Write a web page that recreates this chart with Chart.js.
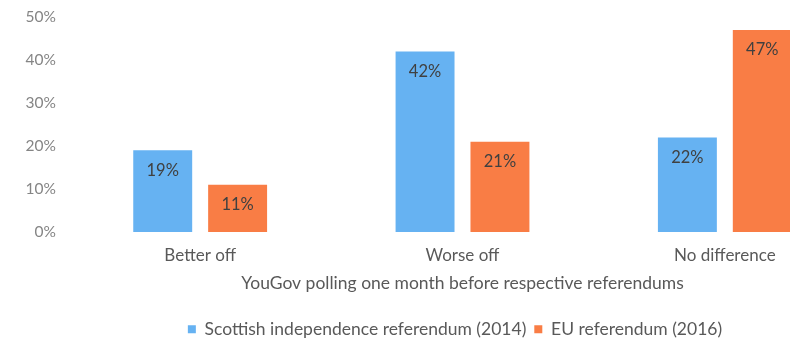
<!DOCTYPE html>
<html>
<head>
<meta charset="utf-8">
<script src="https://cdn.jsdelivr.net/npm/chart.js@4.4.0/dist/chart.umd.min.js"></script>
<style>
  html, body { margin: 0; padding: 0; background: #fff; overflow: hidden; height: 342px; }
  #wrap { width: 910px; height: 355px; margin-top: -7px; }
</style>
</head>
<body>
<div id="wrap"><canvas id="myChart" width="910" height="355"></canvas></div>
<script>
const categorias = ['Better off', 'Worse off', 'No difference'];
const escocia2014 = [19, 42, 22];
const ue2016 = [11, 21, 47];
const serieNomes = ['Scottish independence referendum (2014)', 'EU referendum (2016)'];
const yTicks = [0, 10, 20, 30, 40, 50];

const fonte = 'Lato, "Open Sans", sans-serif';

// escreve o valor dentro de cada barra, perto do topo
const rotulosBarras = {
  id: 'rotulosBarras',
  afterDatasetsDraw(chart) {
    const ctx = chart.ctx;
    ctx.save();
    ctx.font = '16.5px ' + fonte;
    ctx.fillStyle = '#404040';
    ctx.textAlign = 'center';
    ctx.textBaseline = 'middle';
    chart.data.datasets.forEach((ds, i) => {
      chart.getDatasetMeta(i).data.forEach((bar, j) => {
        ctx.fillText(ds.data[j] + '%', bar.x, bar.y + 20);
      });
    });
    ctx.restore();
  }
};

const ctx = document.getElementById('myChart').getContext('2d');
const myChart = new Chart(ctx, {
  type: 'bar',
  data: {
    labels: categorias,
    datasets: [{
      label: serieNomes[0],
      data: escocia2014,
      backgroundColor: '#66b2f2',
      categoryPercentage: 0.571,
      barPercentage: 0.787
    }, {
      label: serieNomes[1],
      data: ue2016,
      backgroundColor: '#f97d45',
      categoryPercentage: 0.571,
      barPercentage: 0.787
    }]
  },
  options: {
    responsive: false,
    animation: false,
    layout: { padding: { top: 24, right: 0, left: 0, bottom: 0 } },
    plugins: {
      tooltip: { enabled: false },
      legend: {
        position: 'bottom',
        labels: {
          boxWidth: 8,
          boxHeight: 8,
          padding: 8,
          color: '#595959',
          font: { family: fonte, size: 17.5 }
        }
      }
    },
    scales: {
      x: {
        grid: { display: false },
        border: { display: false },
        ticks: { color: '#595959', font: { family: fonte, size: 17 }, padding: 5 },
        title: {
          display: true,
          text: 'YouGov polling one month before respective referendums',
          color: '#595959',
          font: { family: fonte, size: 17.5 },
          padding: { top: 2, bottom: 19 }
        }
      },
      y: {
        min: 0,
        max: 50,
        afterFit(scale) { scale.width = 69; },
        afterBuildTicks(scale) { scale.ticks = yTicks.map(v => ({ value: v })); },
        grid: { display: false },
        border: { display: false },
        ticks: {
          color: '#858585',
          padding: 5,
          font: { family: fonte, size: 15.5 },
          callback: v => v + '%'
        }
      },
      // eixo vazio à direita, só para reservar a margem da área do gráfico
      margemDireita: {
        position: 'right',
        min: 0,
        max: 50,
        afterFit(scale) { scale.width = 54; },
        grid: { display: false },
        border: { display: false },
        ticks: { display: false }
      }
    }
  },
  plugins: [rotulosBarras]
});
</script>
</body>
</html>
